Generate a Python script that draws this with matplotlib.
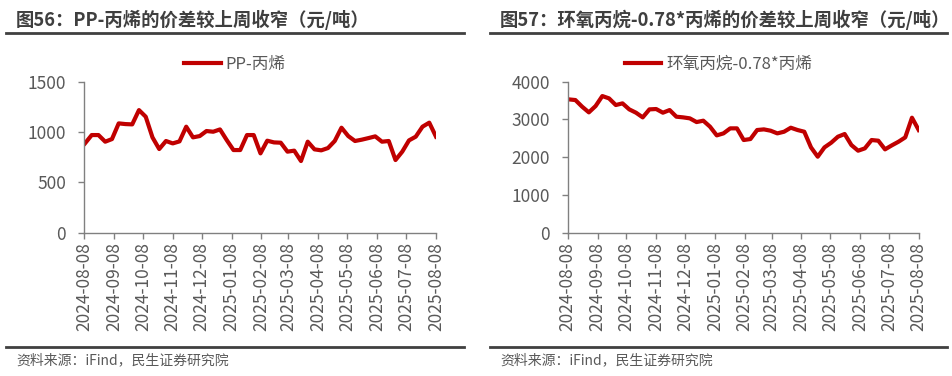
import matplotlib
matplotlib.use("Agg")
import matplotlib.pyplot as plt
from matplotlib.lines import Line2D
import pandas as pd

plt.rcParams['font.family'] = ['Noto Sans CJK SC', 'DejaVu Sans']

# weekly data, 2024-08-09 .. 2025-08-08
dates = pd.date_range('2024-08-09', periods=53, freq='7D')

pp_spread = [887, 970, 970, 904, 930, 1086, 1079, 1076, 1218, 1152,
             947, 831, 911, 887, 907, 1053, 947, 960, 1010, 1003,
             1026, 920, 821, 821, 970, 970, 788, 914, 897, 894,
             805, 815, 712, 904, 828, 818, 841, 911, 1043, 960,
             911, 924, 940, 957, 904, 911, 722, 805, 917, 954,
             1053, 1093, 954]

po_spread = [3532, 3514, 3338, 3188, 3355, 3620, 3558, 3382, 3426, 3267,
             3179, 3055, 3267, 3276, 3179, 3249, 3073, 3055, 3029, 2931,
             2967, 2808, 2578, 2631, 2764, 2764, 2455, 2481, 2720, 2737,
             2702, 2631, 2675, 2781, 2720, 2675, 2260, 2013, 2260, 2384,
             2543, 2614, 2322, 2172, 2234, 2455, 2437, 2208, 2313, 2410,
             2525, 3046, 2720]

tick_labels = ['2024-08-08', '2024-09-08', '2024-10-08', '2024-11-08', '2024-12-08',
               '2025-01-08', '2025-02-08', '2025-03-08', '2025-04-08', '2025-05-08',
               '2025-06-08', '2025-07-08', '2025-08-08']

titles = ['图56：PP-丙烯的价差较上周收窄（元/吨）',
          '图57：环氧丙烷-0.78*丙烯的价差较上周收窄（元/吨）']
series_names = ['PP-丙烯', '环氧丙烷-0.78*丙烯']
source = '资料来源：iFind，民生证券研究院'

W, H = 953, 376
RED = '#C00000'
GRAY = '#595959'
SPINE = '#808080'

fig = plt.figure(figsize=(W / 100, H / 100), dpi=100)


def fx(px):
    return px / W


def fy(py):
    return 1 - py / H


panels = [
    dict(x0=6, x1=464, tx=16, ax=(84, 436), data=pp_spread,
         ylim=1500, yticks=[0, 500, 1000, 1500]),
    dict(x0=490, x1=947, tx=500, ax=(567.7, 918.7), data=po_spread,
         ylim=4000, yticks=[0, 1000, 2000, 3000, 4000]),
]

tick_dates = pd.to_datetime(tick_labels)

for i, p in enumerate(panels):
    # title + rules
    fig.text(fx(p['tx']), fy(20), titles[i], fontsize=13.2, fontweight='bold',
             color='#3F3F3F', va='center', ha='left')
    fig.add_artist(Line2D([fx(p['x0']), fx(p['x1'])], [fy(33), fy(33)],
                          color='#404040', lw=2))
    fig.add_artist(Line2D([fx(p['x0']), fx(p['x1'])], [fy(347), fy(347)],
                          color='#404040', lw=2))
    fig.text(fx(p['tx']), fy(360), source, fontsize=10, color=GRAY,
             va='center', ha='left')

    left, right = p['ax']
    top, bottom = 81.7, 232.7
    ax = fig.add_axes([fx(left), fy(bottom), fx(right - left), (bottom - top) / H])
    ax.plot(dates, p['data'], color=RED, lw=3, label=series_names[i],
            solid_joinstyle='round')
    ax.set_xlim(tick_dates[0], tick_dates[-1])
    ax.set_ylim(0, p['ylim'])
    ax.set_yticks(p['yticks'])
    ax.set_xticks(tick_dates)
    ax.set_xticklabels(tick_labels, rotation=90)
    for s in ['top', 'right']:
        ax.spines[s].set_visible(False)
    for s in ['left', 'bottom']:
        ax.spines[s].set_color(SPINE)
        ax.spines[s].set_linewidth(1)
    ax.tick_params(axis='both', colors=SPINE, labelcolor=GRAY, labelsize=12.5,
                   length=4, width=1, direction='out')
    ax.tick_params(axis='y', pad=9)
    ax.tick_params(axis='x', pad=3)
    ax.patch.set_alpha(0)

    ax.legend(loc='center', bbox_to_anchor=(fx((p['x0'] + p['x1']) / 2), fy(64)),
              bbox_transform=fig.transFigure, frameon=False, fontsize=12,
              handlelength=2.2, handletextpad=0.3, labelcolor=GRAY)

fig.savefig('out.png', dpi=100)
